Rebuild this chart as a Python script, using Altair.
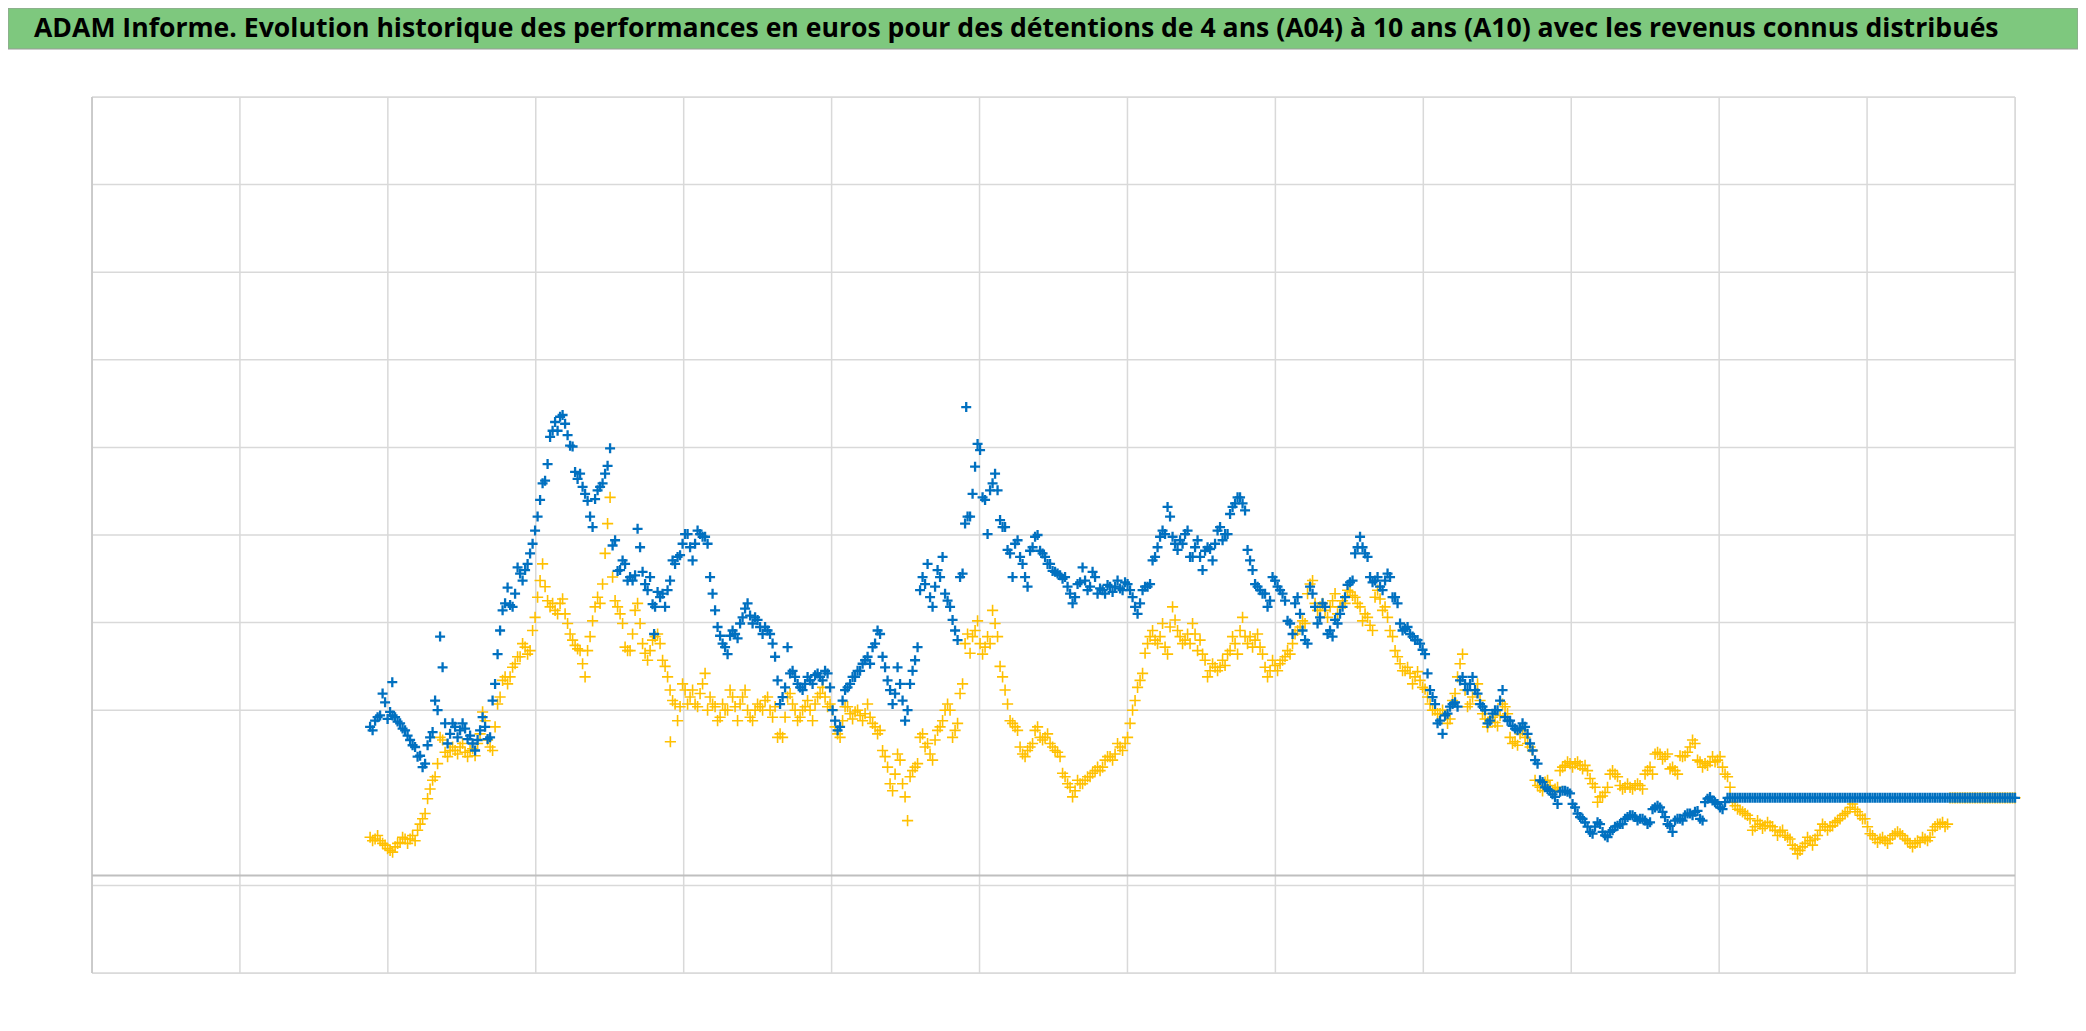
import altair as alt
import pandas as pd

TITLE = ("ADAM Informe. Evolution historique des performances en euros pour des "
         "détentions de 4 ans (A04) à 10 ans (A10) avec les revenus connus distribués")

# time axis (one gridline per period, 0..13); readings every DT period starting at T0,
# a second pass of readings is taken half-way between the first ones
T0 = 1.88
DT = 0.0338

# ---- A10 series (blue), first pass, value units: gridline = 10 ----
blue_a = [28.1, 28.8, 29.4, 30.9, 29.8, 29.2, 28.5, 27.7, 26.6, 25.8,
          24.8, 23.9, 26.9, 31.1, 38.4, 28.5, 27.3, 28.1, 27.7, 27.9,
          27.1, 25.4, 27.7, 28.1, 26.9, 33.0, 39.1, 42.2, 42.0, 43.3,
          45.6, 46.0, 47.9, 50.5, 54.0, 56.2, 61.2, 62.9, 63.5, 62.7,
          60.2, 57.2, 57.0, 54.7, 52.1, 54.1, 55.5, 57.0, 59.9, 49.4,
          46.0, 46.7, 45.2, 45.4, 48.6, 44.4, 45.2, 41.8, 42.9, 41.8,
          44.8, 46.7, 47.7, 50.1, 48.6, 49.0, 50.1, 49.8, 45.2, 41.4,
          38.5, 37.2, 38.5, 38.7, 39.9, 41.6, 40.8, 40.6, 39.5, 39.5,
          38.7, 36.1, 30.7]
blue_b = [32.6, 34.2, 33.8, 32.6, 33.0, 33.4, 34.0, 33.8, 34.5, 32.6,
          28.8, 28.1, 32.3, 33.0, 33.8, 34.5, 35.7, 35.3, 37.6, 38.7,
          34.9, 32.3, 31.9, 33.0, 28.8, 33.0, 35.7, 43.7, 44.4, 42.9,
          44.1, 45.2, 43.3, 41.8, 39.1, 45.2, 51.3, 52.1, 57.8, 59.7,
          54.0, 55.1, 57.0, 51.7, 50.9, 47.9, 49.0, 47.5, 45.2, 48.2,
          49.8, 48.2, 47.5, 46.7, 45.8, 45.4, 45.2, 43.3, 42.9, 44.6,
          44.8, 44.1, 45.2, 43.9, 43.3, 44.1, 44.1, 43.9, 44.6, 43.7,
          41.8, 42.2, 44.1, 44.4, 47.5, 49.8, 50.1, 52.1, 49.0, 49.4,
          50.1, 47.5]
blue_c = [48.6, 47.5, 48.2, 48.4, 49.0, 50.9, 50.1, 52.4, 53.6, 54.3,
          52.8, 47.1, 44.4, 43.7, 43.3, 42.5, 44.8, 43.7, 42.5, 39.9,
          42.2, 41.0, 38.0, 44.1, 41.8, 40.6, 41.8, 39.1, 40.3, 41.0,
          42.9, 44.6, 47.9, 49.8, 47.9, 45.2, 44.8, 44.1, 44.8, 45.2,
          42.9, 39.9, 39.3, 38.7, 38.0, 37.6, 36.4, 32.3, 30.7, 28.8,
          29.4, 30.4, 30.9, 33.4, 33.0, 33.0, 32.3, 30.7, 30.0, 28.8,
          30.0, 31.1, 29.2, 28.8, 27.9, 27.9, 28.1, 26.2, 24.3, 22.0,
          21.2, 20.8, 20.1, 20.7, 20.8, 20.5, 18.9, 17.8, 17.2, 16.1,
          16.7, 17.0]
blue_d = [15.7, 16.1, 16.7, 17.0, 17.6, 18.0, 17.8, 17.6, 17.4, 17.2,
          18.9, 18.9, 17.8, 16.8, 17.4, 17.6, 18.0, 18.2, 18.4, 17.6,
          19.5, 20.1, 19.5, 18.9, 19.5] + [20.0] * 58

# ---- A10 series (blue), second pass ----
blue2_a = [27.7, 29.2, 31.9, 29.0, 29.4, 28.7, 27.9, 27.1, 26.0, 24.7,
           23.5, 26.0, 27.5, 30.0, 34.9, 26.2, 28.5, 26.9, 28.5, 26.7,
           26.2, 26.6, 29.2, 26.7, 31.1, 36.4, 41.4, 44.0, 41.8, 46.3,
           44.8, 46.7, 49.0, 52.1, 55.9, 58.1, 61.9, 61.9, 63.7, 61.4,
           60.1, 56.4, 55.5, 53.9, 50.9, 55.1, 55.9, 57.9, 48.8, 45.9,
           47.1, 44.8, 44.8, 50.7, 45.8, 43.7, 42.1, 43.5, 43.3, 43.7,
           47.1, 47.5, 49.0, 50.1, 47.1, 50.5, 49.8, 49.0, 43.3, 39.5,
           37.6, 36.4, 39.1, 38.2, 40.6, 42.2, 39.9, 40.3, 38.7, 39.1,
           37.6, 33.4]
blue2_b = [31.5, 37.2, 34.5, 33.0, 32.3, 33.8, 33.0, 34.2, 33.4, 34.2,
           30.0, 27.7, 31.1, 32.6, 33.8, 34.5, 35.3, 36.1, 37.2, 39.1,
           36.1, 33.4, 30.7, 34.9, 31.1, 30.0, 34.5, 37.2, 45.2, 46.7,
           41.8, 46.0, 47.5, 42.5, 40.3, 38.0, 45.6, 52.1, 54.7, 60.4,
           54.3, 50.1, 55.9, 55.1, 50.9, 48.3, 45.2, 49.4, 46.7, 44.1,
           48.6, 50.0, 47.9, 46.7, 45.9, 45.6, 45.0, 44.1, 42.2, 44.4,
           46.3, 43.7, 45.8, 43.3, 43.7, 44.3, 43.5, 44.8, 43.7, 44.4,
           42.9, 41.0, 43.7, 44.1, 47.1, 48.6, 50.5, 53.2, 49.8, 48.3,
           49.0, 50.5]
blue2_c = [47.5, 49.4, 46.0, 48.6, 47.1, 50.5, 49.4, 50.1, 53.2, 54.3,
           53.6, 48.3, 46.0, 44.1, 43.3, 41.8, 45.2, 44.1, 43.3, 40.2,
           38.7, 42.9, 39.1, 37.6, 43.3, 39.9, 42.2, 38.7, 38.4, 39.9,
           41.8, 44.3, 44.8, 48.6, 48.6, 47.5, 44.6, 45.2, 43.7, 45.6,
           42.9, 42.2, 39.1, 39.5, 38.4, 38.0, 36.9, 34.2, 31.5, 28.5,
           27.3, 29.6, 30.7, 30.4, 33.8, 32.3, 33.8, 31.9, 30.4, 28.5,
           29.6, 30.0, 32.3, 28.8, 28.2, 27.7, 28.5, 27.3, 25.4, 23.9,
           21.8, 21.0, 20.4, 19.3, 20.8, 20.7, 19.3, 18.2, 17.6, 16.7,
           15.9, 17.2]
blue2_d = [16.1, 15.5, 16.3, 16.8, 17.0, 17.8, 18.0, 17.4, 17.6, 17.0,
           18.7, 19.1, 18.4, 17.0, 16.1, 17.6, 17.4, 18.2, 18.0, 18.5,
           17.4, 19.9, 19.7, 19.3, 18.7] + [20.0] * 58

# ---- A04 series (gold), first pass ----
gold_a = [15.5, 15.3, 15.1, 14.6, 14.0, 14.4, 14.9, 15.3, 15.3, 15.1,
          17.0, 18.2, 21.0, 22.4, 26.9, 25.2, 25.4, 25.4, 25.8, 25.2,
          25.4, 24.8, 27.3, 28.8, 25.8, 28.1, 31.5, 33.8, 33.8, 35.3,
          36.1, 37.2, 36.8, 40.6, 44.8, 44.1, 41.8, 41.4, 42.2, 41.0,
          38.7, 37.4, 36.8, 33.8, 38.4, 41.8, 42.2, 47.9, 54.3, 42.5,
          41.0, 37.2, 36.8, 41.4, 39.9, 36.5, 36.8, 38.4, 37.6, 35.0,
          32.3, 30.7, 30.4, 32.3, 31.5, 30.7, 31.9, 34.2, 31.5, 30.4,
          29.2, 30.0, 32.3, 30.4, 30.7, 32.3, 29.2, 30.0, 30.4, 31.1,
          30.0, 30.4, 27.3]
gold_b = [29.2, 31.9, 30.0, 29.2, 30.4, 30.0, 30.7, 31.9, 31.5, 30.7,
          28.1, 26.9, 30.4, 29.6, 29.8, 29.4, 29.6, 29.2, 28.1, 27.7,
          24.7, 21.6, 22.7, 24.3, 20.1, 22.4, 23.5, 26.9, 25.8, 25.0,
          26.6, 28.1, 30.0, 30.0, 27.7, 31.9, 37.6, 36.5, 39.1, 37.6,
          37.2, 37.6, 39.9, 35.0, 32.3, 28.8, 28.1, 25.8, 24.7, 25.8,
          27.7, 26.9, 26.9, 26.2, 25.4, 24.7, 22.4, 21.2, 20.8, 21.6,
          22.0, 22.4, 23.1, 23.1, 24.3, 24.7, 25.0, 25.8, 26.2, 28.5,
          31.1, 33.4, 36.5, 38.4, 38.0, 38.4, 37.2, 39.5, 40.3, 38.4,
          38.0, 37.6]
gold_c = [38.7, 38.0, 35.7, 34.5, 34.9, 34.9, 35.1, 36.8, 37.6, 39.1,
          38.4, 38.4, 38.0, 37.2, 34.9, 34.5, 35.1, 35.3, 36.1, 36.4,
          38.7, 39.5, 39.9, 44.4, 42.2, 41.8, 41.4, 41.8, 43.3, 41.8,
          42.2, 43.5, 42.9, 41.8, 41.0, 39.7, 42.9, 42.7, 41.8, 39.1,
          36.8, 35.3, 34.5, 34.2, 33.8, 33.4, 32.4, 30.7, 30.0, 29.6,
          29.4, 29.0, 31.9, 35.3, 32.3, 30.7, 32.3, 31.1, 29.0, 28.8,
          28.6, 29.4, 30.4, 26.9, 26.4, 27.3, 26.9, 25.8, 22.0, 21.2,
          21.8, 21.4, 21.0, 23.1, 23.7, 23.9, 23.9, 23.7, 23.7, 22.2,
          21.2, 20.1]
gold_d = [20.6, 22.7, 22.7, 21.4, 21.2, 21.2, 21.4, 21.4, 22.7, 23.5,
          25.0, 25.0, 24.7, 23.3, 23.1, 24.8, 24.8, 25.8, 26.2, 24.1,
          23.9, 24.1, 24.1, 24.7, 22.7, 21.2, 19.1, 18.6, 18.2, 17.6,
          16.7, 17.0, 16.8, 16.8, 16.3, 16.1, 15.7, 15.3, 14.2, 14.0,
          14.8, 15.1, 15.3, 16.3, 16.7, 16.7, 17.2, 17.6, 18.2, 18.9,
          18.7, 18.0, 17.6, 15.9, 15.3, 15.3, 15.1, 15.3, 15.9, 15.9,
          15.3, 14.8, 14.8, 14.9, 15.3, 15.5, 16.7, 17.0, 16.7] + [20.0] * 14

# ---- A04 series (gold), second pass ----
gold2_a = [15.1, 15.7, 14.8, 14.2, 13.8, 14.8, 15.5, 14.8, 15.7, 16.3,
           17.6, 19.9, 22.0, 23.9, 26.6, 24.7, 25.8, 25.0, 26.2, 24.7,
           25.6, 26.2, 29.8, 26.6, 25.4, 30.7, 33.4, 33.0, 34.9, 36.1,
           37.6, 36.4, 39.1, 42.9, 46.7, 42.5, 42.2, 41.0, 42.7, 39.9,
           38.0, 37.0, 35.3, 36.8, 40.2, 42.9, 44.4, 51.3, 45.2, 41.8,
           39.9, 36.8, 38.7, 42.2, 37.6, 35.7, 38.0, 38.7, 35.7, 33.8,
           31.1, 28.8, 33.0, 30.7, 32.3, 30.4, 33.0, 30.0, 30.7, 28.8,
           30.7, 30.0, 31.5, 28.8, 31.5, 30.0, 28.8, 30.7, 30.0, 31.5,
           29.2, 26.9]
gold2_b = [26.9, 31.5, 30.7, 28.8, 30.0, 31.1, 28.8, 31.5, 32.6, 30.4,
           30.0, 27.3, 28.8, 30.4, 29.0, 30.0, 28.8, 30.7, 28.5, 27.3,
           25.4, 23.5, 20.8, 25.0, 21.6, 17.4, 23.1, 23.9, 27.3, 26.2,
           24.3, 27.7, 28.8, 30.7, 26.9, 28.5, 33.0, 38.7, 38.4, 40.2,
           36.4, 38.4, 41.4, 38.4, 33.8, 30.7, 28.5, 27.7, 25.0, 25.4,
           26.2, 28.1, 26.6, 27.3, 25.8, 25.2, 22.8, 21.6, 20.1, 22.0,
           21.6, 22.4, 22.8, 23.5, 23.5, 24.7, 24.3, 26.2, 25.4, 26.9,
           30.0, 32.6, 34.2, 37.6, 39.1, 37.6, 39.9, 36.4, 41.8, 39.1,
           37.6, 38.7]
gold2_c = [39.9, 36.8, 36.4, 33.8, 35.3, 34.5, 35.7, 36.4, 38.4, 36.4,
           40.6, 37.6, 37.2, 38.7, 36.4, 33.8, 35.7, 34.5, 35.7, 36.8,
           37.6, 39.1, 40.2, 43.3, 44.8, 41.4, 42.2, 40.6, 42.5, 41.0,
           42.5, 43.7, 43.1, 42.2, 40.2, 40.6, 39.1, 43.7, 41.4, 40.6,
           38.4, 36.1, 34.5, 34.9, 33.0, 34.4, 32.6, 31.5, 30.0, 29.6,
           30.0, 28.5, 31.1, 33.8, 36.4, 30.4, 31.5, 33.0, 29.6, 28.1,
           29.2, 28.2, 30.7, 29.6, 26.2, 26.0, 27.7, 26.2, 25.4, 21.4,
           20.8, 22.0, 20.8, 21.2, 23.5, 24.1, 23.5, 24.1, 23.3, 23.1,
           21.6, 19.5]
gold2_d = [20.2, 21.2, 23.1, 22.4, 21.0, 21.6, 21.0, 21.6, 21.0, 23.1,
           22.7, 25.2, 24.4, 25.0, 23.5, 22.7, 24.7, 25.2, 26.6, 24.3,
           23.5, 23.7, 24.7, 24.3, 23.5, 22.4, 19.5, 18.7, 18.4, 18.0,
           16.3, 17.4, 16.5, 17.2, 16.7, 15.7, 16.3, 15.5, 14.6, 13.6,
           14.4, 15.5, 14.6, 15.7, 17.0, 16.3, 16.8, 17.4, 18.0, 18.4,
           19.3, 18.4, 17.6, 16.7, 15.7, 14.9, 15.5, 14.8, 15.7, 16.1,
           15.7, 15.1, 14.4, 15.1, 15.5, 15.1, 16.3, 17.0, 17.2, 17.0] + [20.0] * 13

# isolated points
blue_extra_t = [2.03, 3.80, 5.91]
blue_extra_v = [33.2, 38.7, 64.6]
gold_extra_t = [3.91]
gold_extra_v = [26.4]

x_grid = list(range(14))
y_grid = [0, 10, 30, 40, 50, 60, 70, 80, 90, 100]
axis_line = [11.14]

blue = blue_a + blue_b + blue_c + blue_d
gold = gold_a + gold_b + gold_c + gold_d
blue2 = blue2_a + blue2_b + blue2_c + blue2_d
gold2 = gold2_a + gold2_b + gold2_c + gold2_d
t1 = lambda n: [round(T0 + DT * i, 4) for i in range(n)]
t2 = lambda n: [round(T0 + DT / 2 + DT * i, 4) for i in range(n)]

df_blue = pd.DataFrame({"t": t1(len(blue)) + t2(len(blue2)) + blue_extra_t,
                        "v": blue + blue2 + blue_extra_v})
df_gold = pd.DataFrame({"t": t1(len(gold)) + t2(len(gold2)) + gold_extra_t,
                        "v": gold + gold2 + gold_extra_v})

W, H = 1923, 876
xs = alt.Scale(domain=[0, 13], nice=False, zero=False)
ys = alt.Scale(domain=[0, 100], nice=False, zero=False)
PLUS = "M-1,0L1,0M0,-1L0,1"

one = pd.DataFrame({"k": [0]})

vgrid = alt.Chart(pd.DataFrame({"t": x_grid})).mark_rule(
    color="#D9D9D9", strokeWidth=1.5).encode(
    x=alt.X("t:Q", scale=xs, axis=None), y=alt.value(0), y2=alt.value(H))
hgrid = alt.Chart(pd.DataFrame({"v": y_grid})).mark_rule(
    color="#D9D9D9", strokeWidth=1.5).encode(
    y=alt.Y("v:Q", scale=ys, axis=None), x=alt.value(0), x2=alt.value(W))
left_line = alt.Chart(pd.DataFrame({"t": [0]})).mark_rule(
    color="#C4C4C4", strokeWidth=1.5).encode(
    x=alt.X("t:Q", scale=xs, axis=None), y=alt.value(0), y2=alt.value(H))
zero_line = alt.Chart(pd.DataFrame({"v": axis_line})).mark_rule(
    color="#BFBFBF", strokeWidth=2).encode(
    y=alt.Y("v:Q", scale=ys, axis=None), x=alt.value(0), x2=alt.value(W))

gold_pts = alt.Chart(df_gold).mark_point(
    shape=PLUS, filled=False, color="#FFC000", strokeWidth=1.6, size=125, opacity=1).encode(
    x=alt.X("t:Q", scale=xs, axis=None), y=alt.Y("v:Q", scale=ys, axis=None))
blue_pts = alt.Chart(df_blue).mark_point(
    shape=PLUS, filled=False, color="#0070C0", strokeWidth=2.3, size=100, opacity=1).encode(
    x=alt.X("t:Q", scale=xs, axis=None), y=alt.Y("v:Q", scale=ys, axis=None))

title_bar = alt.Chart(one).mark_rect(color="#7EC87E", stroke="#9A9A9A", strokeWidth=1).encode(
    x=alt.value(-84), x2=alt.value(1986), y=alt.value(-89), y2=alt.value(-48))
title_txt = alt.Chart(one).mark_text(
    text=TITLE, align="left", baseline="alphabetic", font="Open Sans",
    fontWeight="bold", fontSize=26.6, color="#000000").encode(
    x=alt.value(-58), y=alt.value(-60))

chart = alt.layer(
    title_bar, title_txt, vgrid, hgrid, left_line, zero_line, gold_pts, blue_pts
).properties(
    width=W, height=H,
    padding={"left": 84, "top": 89, "right": 63, "bottom": 43},
    autosize=alt.AutoSizeParams(type="none"),
).configure_view(stroke=None).configure(background="white")

chart.save("out.html", embed_options={"renderer": "svg", "actions": False})
